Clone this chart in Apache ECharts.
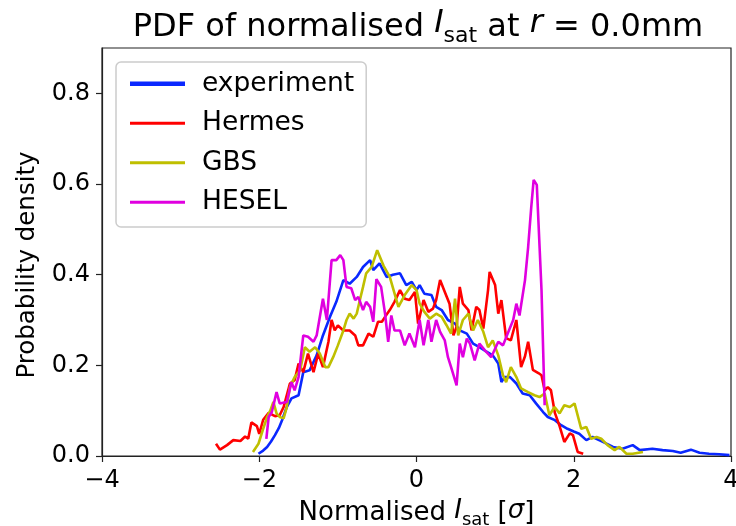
<!DOCTYPE html>
<html>
<head>
<meta charset="utf-8">
<script src="https://cdn.jsdelivr.net/npm/echarts@6/dist/echarts.min.js"></script>
<style>
html,body{margin:0;padding:0;background:#fff;}
#chart{width:736px;height:526px;}
</style>
</head>
<body>
<div id="chart"></div>
<script>
const seriesNames = ['experiment', 'Hermes', 'GBS', 'HESEL'];
const xTicks = [-4, -2, 0, 2, 4];
const yTicks = [0.0, 0.2, 0.4, 0.6, 0.8];

const experiment = [[-2.01,0.005],[-1.95,0.012],[-1.9,0.02],[-1.85,0.032],[-1.8,0.046],[-1.75,0.062],[-1.71,0.079],[-1.65,0.108],[-1.59,0.127],[-1.5,0.134],[-1.44,0.185],[-1.36,0.189],[-1.27,0.222],[-1.19,0.266],[-1.1,0.307],[-1.02,0.34],[-0.93,0.388],[-0.85,0.38],[-0.76,0.395],[-0.68,0.417],[-0.59,0.432],[-0.55,0.41],[-0.47,0.425],[-0.38,0.395],[-0.3,0.40],[-0.21,0.403],[-0.13,0.377],[-0.06,0.384],[0.0,0.366],[0.04,0.377],[0.1,0.358],[0.19,0.355],[0.25,0.329],[0.32,0.322],[0.4,0.30],[0.49,0.292],[0.55,0.277],[0.64,0.27],[0.72,0.248],[0.8,0.24],[0.89,0.23],[0.97,0.222],[1.04,0.204],[1.08,0.163],[1.12,0.174],[1.19,0.174],[1.27,0.16],[1.35,0.138],[1.44,0.134],[1.52,0.116],[1.61,0.097],[1.67,0.086],[1.76,0.079],[1.84,0.068],[1.92,0.06],[2.0,0.054],[2.07,0.049],[2.16,0.035],[2.24,0.042],[2.37,0.031],[2.5,0.02],[2.62,0.016],[2.75,0.024],[2.84,0.013],[3.0,0.016],[3.13,0.013],[3.26,0.011],[3.36,0.007],[3.49,0.014],[3.6,0.007],[3.72,0.005],[3.85,0.004],[3.98,0.002]];

const hermes = [[-2.55,0.027],[-2.5,0.014],[-2.41,0.024],[-2.33,0.035],[-2.24,0.033],[-2.18,0.043],[-2.14,0.038],[-2.1,0.074],[-2.03,0.066],[-2.0,0.049],[-1.95,0.08],[-1.88,0.095],[-1.8,0.088],[-1.74,0.09],[-1.69,0.108],[-1.61,0.16],[-1.55,0.167],[-1.5,0.204],[-1.44,0.185],[-1.38,0.226],[-1.31,0.185],[-1.25,0.226],[-1.19,0.196],[-1.12,0.252],[-1.08,0.30],[-1.04,0.277],[-1.0,0.288],[-0.93,0.277],[-0.85,0.277],[-0.78,0.266],[-0.74,0.244],[-0.68,0.244],[-0.61,0.27],[-0.55,0.263],[-0.49,0.296],[-0.44,0.296],[-0.4,0.307],[-0.34,0.322],[-0.28,0.34],[-0.21,0.366],[-0.15,0.347],[-0.09,0.344],[-0.02,0.362],[0.02,0.292],[0.09,0.344],[0.15,0.318],[0.21,0.325],[0.25,0.344],[0.3,0.388],[0.36,0.362],[0.42,0.336],[0.47,0.266],[0.51,0.285],[0.55,0.373],[0.59,0.336],[0.66,0.322],[0.7,0.277],[0.76,0.329],[0.8,0.322],[0.85,0.281],[0.91,0.366],[0.93,0.406],[1.0,0.377],[1.04,0.314],[1.08,0.344],[1.14,0.26],[1.2,0.255],[1.27,0.30],[1.29,0.296],[1.33,0.196],[1.38,0.22],[1.42,0.252],[1.48,0.19],[1.55,0.183],[1.59,0.178],[1.63,0.145],[1.67,0.152],[1.71,0.145],[1.76,0.095],[1.82,0.066],[1.88,0.031],[1.95,0.05],[1.99,0.046],[2.05,0.009],[2.12,0.005]];

const gbs = [[-2.08,0.009],[-2.01,0.027],[-1.95,0.06],[-1.9,0.086],[-1.86,0.10],[-1.82,0.119],[-1.78,0.094],[-1.74,0.086],[-1.69,0.083],[-1.65,0.108],[-1.61,0.152],[-1.55,0.174],[-1.48,0.189],[-1.42,0.24],[-1.36,0.23],[-1.29,0.24],[-1.23,0.226],[-1.16,0.196],[-1.12,0.196],[-1.06,0.218],[-1.0,0.244],[-0.93,0.277],[-0.89,0.30],[-0.85,0.314],[-0.8,0.303],[-0.76,0.314],[-0.72,0.344],[-0.68,0.373],[-0.64,0.403],[-0.57,0.417],[-0.5,0.454],[-0.42,0.42],[-0.34,0.395],[-0.23,0.329],[-0.15,0.355],[-0.06,0.377],[0.0,0.366],[0.04,0.336],[0.1,0.318],[0.17,0.303],[0.25,0.314],[0.32,0.307],[0.38,0.289],[0.44,0.27],[0.49,0.347],[0.53,0.266],[0.59,0.30],[0.66,0.314],[0.72,0.277],[0.78,0.30],[0.85,0.274],[0.91,0.24],[0.97,0.255],[1.04,0.222],[1.1,0.178],[1.14,0.163],[1.2,0.196],[1.27,0.174],[1.33,0.149],[1.42,0.141],[1.5,0.134],[1.565,0.13],[1.63,0.138],[1.69,0.09],[1.756,0.108],[1.82,0.094],[1.88,0.112],[1.95,0.108],[2.01,0.116],[2.095,0.06],[2.16,0.064],[2.22,0.038],[2.29,0.042],[2.35,0.038],[2.43,0.024],[2.52,0.013],[2.58,0.02],[2.67,0.005],[2.75,0.005],[2.88,0.009]];

const hesel = [[-1.91,0.038],[-1.88,0.086],[-1.84,0.097],[-1.78,0.141],[-1.74,0.116],[-1.65,0.119],[-1.59,0.163],[-1.55,0.145],[-1.5,0.174],[-1.44,0.266],[-1.38,0.263],[-1.31,0.252],[-1.27,0.266],[-1.19,0.347],[-1.14,0.30],[-1.08,0.432],[-1.02,0.432],[-0.97,0.443],[-0.93,0.432],[-0.89,0.373],[-0.83,0.37],[-0.78,0.344],[-0.74,0.351],[-0.68,0.322],[-0.64,0.34],[-0.59,0.329],[-0.55,0.296],[-0.51,0.39],[-0.45,0.373],[-0.4,0.314],[-0.36,0.252],[-0.32,0.31],[-0.28,0.277],[-0.21,0.277],[-0.15,0.244],[-0.09,0.27],[-0.02,0.24],[0.04,0.30],[0.09,0.244],[0.15,0.30],[0.19,0.252],[0.25,0.30],[0.3,0.274],[0.36,0.255],[0.4,0.218],[0.44,0.196],[0.51,0.156],[0.55,0.248],[0.59,0.218],[0.64,0.259],[0.68,0.248],[0.74,0.211],[0.8,0.248],[0.87,0.233],[0.95,0.218],[1.04,0.252],[1.1,0.244],[1.16,0.27],[1.23,0.3],[1.27,0.336],[1.31,0.31],[1.38,0.388],[1.42,0.461],[1.46,0.55],[1.49,0.609],[1.53,0.598],[1.59,0.366],[1.63,0.112]];

const seriesData = [experiment, hermes, gbs, hesel];
const colors = ['#0a28ff', '#ff0000', '#bfbf00', '#e000e0'];
const legendIcons = ['rect', 'path://M0,0H55V3H0Z', 'path://M0,0H55V3H0Z', 'path://M0,0H55V3H0Z'];

const FONT = 'DejaVu Sans';
const chart = echarts.init(document.getElementById('chart'), null, {renderer: 'canvas'});

function fmtX(v) {
  if (!xTicks.includes(v)) return '';
  return v < 0 ? '\u2212' + Math.abs(v) : String(v);
}
function fmtY(v) {
  const ok = yTicks.some(t => Math.abs(t - v) < 1e-9);
  return ok ? v.toFixed(1) : '';
}

chart.setOption({
  animation: false,
  backgroundColor: '#ffffff',
  title: {
    text: 'PDF of normalised {i|I}{sub|sat} at {i|r} = 0.0mm',
    left: 413, textAlign: 'center', top: 3,
    textStyle: {
      fontFamily: FONT, fontSize: 32, fontWeight: 'normal', color: '#000', verticalAlign: 'top',
      rich: {
        i: {fontFamily: FONT, fontSize: 32, fontStyle: 'italic', color: '#000', verticalAlign: 'top'},
        sub: {fontFamily: FONT, fontSize: 22, color: '#000', verticalAlign: 'top', padding: [17, 0, 0, 0]}
      }
    }
  },
  legend: {
    orient: 'vertical',
    left: 116, top: 62,
    data: seriesNames.map((n, i) => ({name: n, icon: legendIcons[i]})),
    itemWidth: 55, itemHeight: 4.5, itemGap: 12,
    padding: [8, 12, 11, 14],
    backgroundColor: 'rgba(255,255,255,0.8)',
    borderColor: '#cccccc', borderWidth: 1.5, borderRadius: 5,
    textStyle: {fontFamily: FONT, fontSize: 26.5, color: '#000', padding: [0, 0, 0, 12], lineHeight: 27.5}
  },
  grid: {
    left: 102, right: 5, top: 48, bottom: 70,
    outerBoundsMode: 'none', containLabel: false,
    show: true, borderColor: '#222', borderWidth: 1.2, backgroundColor: 'transparent'
  },
  xAxis: {
    type: 'value', min: -4, max: 4, interval: 2,
    name: 'Normalised {i|I}{sub|sat} [{i|σ}]',
    nameLocation: 'middle', nameGap: 33,
    nameTextStyle: {
      fontFamily: FONT, fontSize: 26, color: '#000', verticalAlign: 'top',
      rich: {
        i: {fontFamily: FONT, fontSize: 26, fontStyle: 'italic', color: '#000', verticalAlign: 'top'},
        sub: {fontFamily: FONT, fontSize: 18, color: '#000', verticalAlign: 'top', padding: [13, 0, 0, 0]}
      }
    },
    axisLine: {show: true, onZero: false, lineStyle: {color: '#222', width: 1.2}},
    axisTick: {show: true, inside: false, length: 6, lineStyle: {color: '#222', width: 1.2}},
    splitLine: {show: false},
    axisLabel: {fontFamily: FONT, fontSize: 24, color: '#000', margin: 13, formatter: fmtX}
  },
  yAxis: {
    type: 'value', min: 0, max: 0.9, interval: 0.2,
    name: 'Probability density',
    nameLocation: 'middle', nameGap: 62,
    nameTextStyle: {fontFamily: FONT, fontSize: 24.5, color: '#000', padding: [0, 26, 0, 0]},
    axisLine: {show: true, onZero: false, lineStyle: {color: '#222', width: 1.2}},
    axisTick: {show: true, inside: false, length: 6, lineStyle: {color: '#222', width: 1.2}},
    splitLine: {show: false},
    axisLabel: {fontFamily: FONT, fontSize: 24, color: '#000', margin: 12, formatter: fmtY, showMaxLabel: false}
  },
  series: seriesNames.map((n, i) => ({
    name: n, type: 'line', data: seriesData[i],
    symbol: 'none', showSymbol: false,
    lineStyle: {color: colors[i], width: 2.6},
    itemStyle: {color: colors[i]},
    clip: true
  }))
});
</script>
</body>
</html>
